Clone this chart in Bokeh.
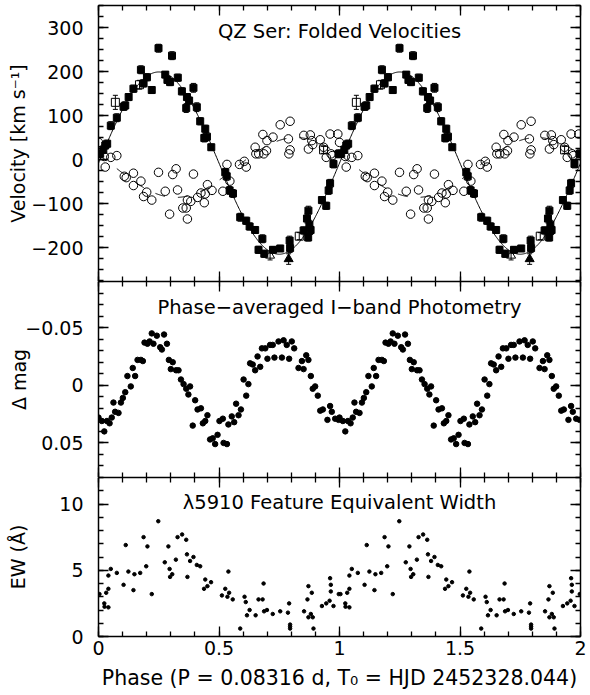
import numpy as np
from bokeh.plotting import figure
from bokeh.layouts import column
from bokeh.models import (Range1d, LinearAxis, SingleIntervalTicker,
                          CustomJSTickFormatter, ColumnDataSource, Whisker, TeeHead)
from bokeh.core.properties import value
from bokeh.embed import file_html
from bokeh.resources import INLINE

# ---------------- data (phase in [0,1), plotted twice) ----------------
# Top panel: absorption velocities (filled squares, with errors)
sq_phase = [0.007, 0.020, 0.028, 0.036, 0.051, 0.076, 0.104, 0.111, 0.125, 0.145,
            0.176, 0.187, 0.201, 0.221, 0.249, 0.277, 0.286, 0.297, 0.305, 0.329,
            0.346, 0.364, 0.367, 0.376, 0.394, 0.408, 0.422, 0.439, 0.443, 0.450,
            0.468, 0.526, 0.532, 0.544, 0.558, 0.588, 0.613, 0.627, 0.650, 0.664,
            0.680, 0.688, 0.724, 0.754, 0.793, 0.795, 0.851, 0.865, 0.870, 0.871,
            0.875, 0.880, 0.927, 0.945, 0.955, 0.961, 0.975, 0.996]
sq_vel = [13, 22, 32, 36, 77, 95, 120, 123, 142, 161,
          204, 173, 187, 158, 253, 193, 181, 176, 236, 186,
          155, 117, 142, 134, 163, 119, 87, 49, 70, 52,
          28, -29, -38, -70, -77, -131, -139, -152, -160, -205,
          -180, -214, -205, -202, -184, -201, -161, -134, -177, -116,
          -148, -160, -92, -105, -70, -54, -10, 13]
sq_err = [8, 8, 8, 8, 9, 9, 8, 8, 8, 8,
          9, 8, 8, 8, 9, 7, 8, 8, 9, 8,
          8, 10, 8, 8, 10, 10, 8, 9, 8, 9,
          7, 9, 9, 9, 9, 9, 8, 8, 8, 8,
          9, 8, 7, 7, 10, 10, 8, 10, 8, 10,
          10, 10, 8, 8, 9, 9, 9, 9]

# Top panel: emission velocities (open circles)
oc_phase = [0.000, 0.024, 0.028, 0.051, 0.076, 0.107, 0.115, 0.145, 0.145, 0.176,
            0.187, 0.200, 0.221, 0.249, 0.277, 0.295, 0.308, 0.322, 0.328, 0.350,
            0.364, 0.369, 0.369, 0.383, 0.394, 0.411, 0.425, 0.439, 0.443, 0.452,
            0.471, 0.516, 0.533, 0.545, 0.585, 0.605, 0.613, 0.650, 0.653, 0.665,
            0.682, 0.686, 0.697, 0.699, 0.724, 0.754, 0.788, 0.790, 0.795, 0.795,
            0.852, 0.871, 0.879, 0.885, 0.889, 0.920, 0.934, 0.945, 0.961, 0.965,
            0.970, 0.993]
oc_vel = [39, 7, -17, 5, 9, -38, -41, -31, -59, -49,
          -84, -74, -92, -29, -72, -124, -34, -21, -69, -110,
          -110, -92, -135, -95, -33, -86, -76, -98, -78, -57,
          -70, -72, -11, -49, -11, -4, -17, 28, 13, 13,
          57, 13, 20, 43, 51, 79, 47, 13, 22, 87,
          55, 24, 56, 43, 34, 45, 28, 5, 58, 13,
          9, 58]

# Top panel: other measurements (open squares, triangles)
os_phase = [0.070, 0.170, 0.833, 0.934]
os_vel = [130, 170, -174, 22]
os_err = [16, 10, 8, 8]
to_phase = [0.712]
to_vel = [-218]
to_err = [10]
tf_phase = [0.789]
tf_vel = [-226]
tf_err = [12]

# Fitted sinusoids (semi-amplitude, systemic velocity, phase offset)
K_abs, G_abs, P_abs = 207.0, -8.0, 0.00
K_em, G_em, P_em = 68.0, -18.0, 0.07

# Middle panel: phase-averaged I-band photometry
ph_phase = [0.000, 0.014, 0.024, 0.035, 0.046, 0.055, 0.062, 0.069, 0.083, 0.093,
            0.101, 0.111, 0.120, 0.134, 0.142, 0.152, 0.162, 0.176, 0.184,
            0.191, 0.203, 0.212, 0.221, 0.228, 0.242, 0.256, 0.263, 0.272, 0.284,
            0.292, 0.300, 0.308, 0.322, 0.332, 0.342, 0.353, 0.364, 0.373, 0.380,
            0.391, 0.401, 0.411, 0.425, 0.433, 0.443, 0.452, 0.463, 0.474, 0.484,
            0.494, 0.502, 0.516, 0.519, 0.533, 0.539, 0.553, 0.563, 0.571, 0.581,
            0.591, 0.602, 0.613, 0.622, 0.629, 0.640, 0.650, 0.660, 0.671, 0.678,
            0.692, 0.701, 0.712, 0.723, 0.730, 0.747, 0.761, 0.768, 0.781, 0.791,
            0.802, 0.812, 0.830, 0.844, 0.851, 0.862, 0.871, 0.881, 0.889, 0.899,
            0.910, 0.920, 0.931, 0.950, 0.961, 0.968, 0.982, 0.996]
ph_mag = [0.028, 0.031, 0.040, 0.031, 0.033, 0.028, 0.015, 0.023, 0.024, 0.015,
          0.011, 0.006, -0.008, 0.001, -0.015, -0.008, -0.022, -0.022, -0.021,
          -0.037, -0.036, -0.038, -0.045, -0.036, -0.043, -0.033, -0.031, -0.044, -0.036,
          -0.022, -0.014, -0.020, -0.013, -0.013, -0.005, -0.001, 0.003, 0.008, 0.001,
          0.035, 0.013, 0.021, 0.020, 0.033, 0.031, 0.026, 0.047, 0.046, 0.051,
          0.043, 0.031, 0.029, 0.050, 0.051, 0.034, 0.027, 0.032, 0.016, 0.026,
          0.021, -0.005, 0.009, -0.001, -0.019, -0.018, -0.013, -0.025, -0.016, -0.032,
          -0.032, -0.023, -0.035, -0.035, -0.024, -0.038, -0.024, -0.039, -0.035, -0.023,
          -0.038, -0.032, -0.015, -0.021, -0.014, -0.026, -0.022, -0.008, 0.003, 0.001,
          0.009, 0.022, 0.021, 0.030, 0.018, 0.023, 0.029, 0.030]

# Bottom panel: lambda5910 feature equivalent width
ew_phase = [0.004, 0.024, 0.025, 0.032, 0.041, 0.041, 0.041, 0.051, 0.076, 0.104,
            0.113, 0.124, 0.145, 0.149, 0.173, 0.187, 0.198, 0.203, 0.221, 0.248,
            0.275, 0.290, 0.295, 0.297, 0.306, 0.321, 0.328, 0.347, 0.364, 0.367,
            0.369, 0.380, 0.394, 0.408, 0.422, 0.438, 0.443, 0.452, 0.467, 0.512,
            0.526, 0.535, 0.539, 0.542, 0.557, 0.588, 0.606, 0.611, 0.616, 0.627,
            0.652, 0.664, 0.681, 0.685, 0.687, 0.699, 0.723, 0.754, 0.786, 0.791,
            0.795, 0.795, 0.795, 0.853, 0.867, 0.871, 0.871, 0.881, 0.885, 0.889,
            0.892, 0.927, 0.945, 0.959, 0.961, 0.964, 0.964, 0.975, 0.997]
ew_val = [3.2, 2.5, 2.25, 3.3, 3.6, 2.2, 4.6, 5.1, 4.8, 3.9,
          6.9, 4.9, 3.5, 4.7, 4.8, 7.5, 5.3, 6.8, 3.2, 8.7,
          5.6, 6.8, 5.1, 4.5, 4.7, 5.8, 7.5, 7.7, 7.3, 6.2,
          4.5, 5.7, 6.0, 5.4, 5.3, 3.6, 4.3, 3.8, 4.1, 3.1,
          3.6, 3.0, 4.9, 3.3, 2.8, 0.6, 3.0, 2.6, 1.6, 2.0,
          1.6, 2.8, 2.8, 4.0, 1.9, 2.0, 1.7, 1.9, 1.8, 2.5,
          0.6, 0.75, 0.9, 1.9, 2.8, 3.8, 1.45, 1.7, 3.3, 1.45,
          0.6, 2.3, 2.5, 2.7, 4.4, 3.9, 3.4, 2.3, 3.2]

titles = ["QZ Ser: Folded Velocities",
          "Phase\u2212averaged I\u2212band Photometry",
          "\u03bb5910 Feature Equivalent Width"]
ylabels = ["Velocity [km s\u207b\u00b9]", "\u0394 mag", "EW (\u00c5)"]
xlabel = "Phase (P = 0.08316 d, T\u2080 = HJD 2452328.044)"

# ---------------- helpers ----------------
FONT = "DejaVu Sans"
FS_TICK = "19px"
FS_TITLE = "19.5px"
FS_YLAB = "19px"
FS_XLAB = "20.5px"
LABEL_FMT = ("var r = Math.round(tick*1000)/1000;"
             "var s = (r == 0) ? '0' : r.toString();"
             "return s.replace('-', '\u2212');")


def fold(ph):
    ph = np.asarray(ph, float)
    return np.concatenate([ph, ph + 1.0])


def twice(v):
    v = np.asarray(v, float)
    return np.concatenate([v, v])


def make_fig(frame_h, y_range, border_top, border_bottom):
    p = figure(frame_width=482, frame_height=frame_h,
               x_range=Range1d(0, 2), y_range=y_range,
               x_axis_location=None, y_axis_location=None,
               toolbar_location=None, output_backend="svg",
               min_border_left=98, min_border_right=8,
               min_border_top=border_top, min_border_bottom=border_bottom)
    p.outline_line_color = None
    p.grid.visible = False
    return p


def add_axes(p, y_int, y_minor, ylabel, ylab_standoff, xlab=None):
    for side in ("left", "right", "above", "below"):
        is_x = side in ("above", "below")
        if is_x:
            ticker = SingleIntervalTicker(interval=0.5, num_minor_ticks=5)
        else:
            ticker = SingleIntervalTicker(interval=y_int, num_minor_ticks=y_minor)
        ax = LinearAxis(ticker=ticker)
        ax.major_tick_in = 10
        ax.major_tick_out = 0
        ax.minor_tick_in = 5
        ax.minor_tick_out = 0
        ax.axis_line_width = 1.5
        ax.major_tick_line_width = 1.3
        ax.minor_tick_line_width = 1.3
        ax.axis_line_color = "black"
        ax.major_tick_line_color = "black"
        ax.minor_tick_line_color = "black"
        labelled = side == "left" or (side == "below" and xlab is not None)
        if labelled:
            ax.formatter = CustomJSTickFormatter(code=LABEL_FMT)
            ax.major_label_text_font = FONT
            ax.major_label_text_font_size = FS_TICK
            ax.major_label_text_color = "black"
            ax.axis_label_text_font = FONT
            ax.axis_label_text_font_style = "normal"
            ax.axis_label_text_color = "black"
            if side == "left":
                ax.major_label_standoff = 15
                ax.axis_label = ylabel
                ax.axis_label_text_font_size = FS_YLAB
                ax.axis_label_standoff = ylab_standoff
            else:
                ax.major_label_standoff = 4
                ax.axis_label = xlab
                ax.axis_label_text_font_size = FS_XLAB
                ax.axis_label_standoff = 8
        else:
            ax.formatter = CustomJSTickFormatter(code="return '';")
            ax.major_label_text_font_size = "0px"
            ax.major_label_standoff = 0
        p.add_layout(ax, side)


def add_title(p, x, y, txt):
    p.text(x=[x], y=[y], text=[txt], text_font=value(FONT),
           text_font_size=value(FS_TITLE), text_align="center",
           text_baseline="middle", text_color="black")


# ---------------- top panel ----------------
p1 = make_fig(276, Range1d(-277, 350), 5, 0)
add_axes(p1, 100, 4, ylabels[0], -1)

grid = np.linspace(0, 2, 801)
p1.line(grid, G_abs + K_abs * np.sin(2 * np.pi * (grid - P_abs)),
        line_color="black", line_width=1)
p1.line(grid, G_em - K_em * np.sin(2 * np.pi * (grid - P_em)),
        line_color="black", line_width=1, line_dash="10 13")

head = dict(size=5, line_color="black", line_width=1)


def err_markers(ph, v, e, marker, size, fill):
    x = fold(ph)
    vv = twice(v)
    ee = twice(e)
    src = ColumnDataSource(dict(x=x, v=vv, up=vv + ee, lo=vv - ee))
    p1.add_layout(Whisker(source=src, base="x", upper="up", lower="lo",
                          line_color="black", line_width=1,
                          upper_head=TeeHead(**head), lower_head=TeeHead(**head)))
    p1.scatter("x", "v", source=src, marker=marker, size=size,
               fill_color=fill, line_color="black", line_width=1)


p1.scatter(fold(oc_phase), twice(oc_vel), marker="circle", size=8.5,
           fill_color=None, line_color="black", line_width=1)
err_markers(os_phase, os_vel, os_err, "square", 8, None)
err_markers(to_phase, to_vel, to_err, "triangle", 9, None)
err_markers(tf_phase, tf_vel, tf_err, "triangle", 9, "black")
err_markers(sq_phase, sq_vel, sq_err, "square", 7, "black")
add_title(p1, 1.0, 292, titles[0])

# ---------------- middle panel ----------------
p2 = make_fig(196, Range1d(0.08, -0.09), 0, 0)
add_axes(p2, 0.05, 5, ylabels[1], -8)
p2.scatter(fold(ph_phase), twice(ph_mag), marker="circle", size=5.5,
           fill_color="black", line_color="black")
add_title(p2, 1.0, -0.0675, titles[1])

# ---------------- bottom panel ----------------
p3 = make_fig(159, Range1d(0, 12), 0, 56)
add_axes(p3, 5, 5, ylabels[2], 27, xlabel)
p3.scatter(fold(ew_phase), twice(ew_val), marker="circle", size=3.5,
           fill_color="black", line_color="black")
add_title(p3, 1.0, 10.1, titles[2])

layout = column(p1, p2, p3)
open("out.html", "w").write(file_html(layout, INLINE))
